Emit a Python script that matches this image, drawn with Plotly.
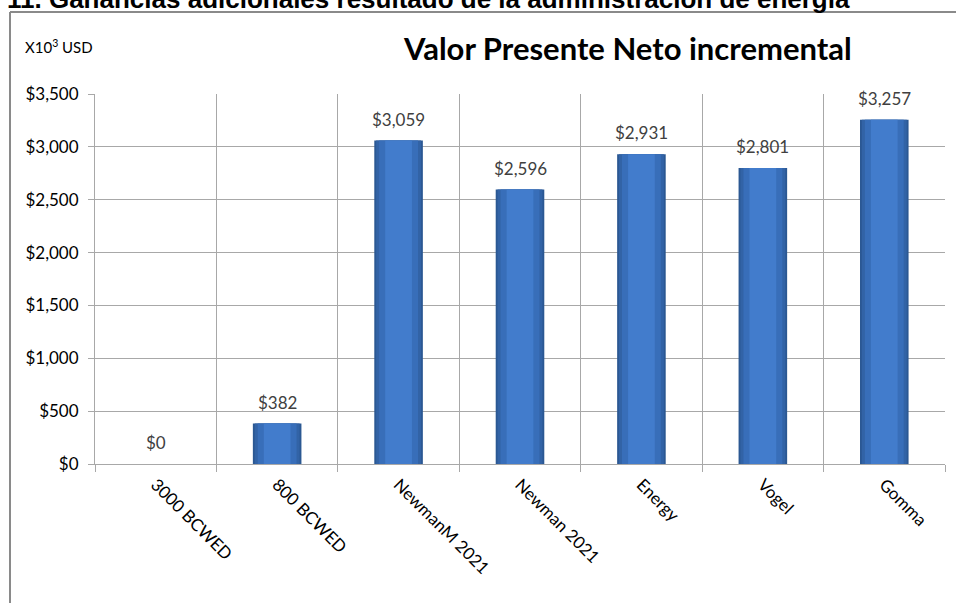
import plotly.graph_objects as go

# Incremental NPV per configuration (thousands of USD)
categories = ["3000 BCWED", "800 BCWED", "NewmanM 2021", "Newman 2021", "Energy", "Vogel", "Gomma"]
npv_values = [0, 382, 3059, 2596, 2931, 2801, 3257]
value_labels = ["$0", "$382", "$3,059", "$2,596", "$2,931", "$2,801", "$3,257"]
y_ticks = [0, 500, 1000, 1500, 2000, 2500, 3000, 3500]
y_tick_labels = ["$0", "$500", "$1,000", "$1,500", "$2,000", "$2,500", "$3,000", "$3,500"]

W, H = 956, 603
L, R, T, B = 95, 11, 94, 139
PW, PH = W - L - R, H - T - B

def px_x(p):
    return (p - L) / PW

def px_y(p):
    return (H - B - p) / PH

label_font = "Lato, 'Open Sans', sans-serif"

fig = go.Figure()

# Layered bars give the bevelled, shaded look of the columns
layers = [
    (0.40, "#2b5893"),
    (0.37, "#3263a6"),
    (0.32, "#386eb9"),
    (0.22, "#427ccc"),
]
for w, c in layers:
    fig.add_trace(go.Bar(
        x=categories, y=npv_values, width=w,
        marker=dict(color=c, line=dict(width=0)),
        hoverinfo="skip", showlegend=False,
    ))

for cat, val, lab in zip(categories, npv_values, value_labels):
    fig.add_annotation(
        x=cat, y=val, text=lab, showarrow=False,
        xref="x", yref="y", yanchor="bottom", yshift=9,
        font=dict(family=label_font, size=17, color="#404040"),
    )

# Chart title, units and the caption above the frame
fig.add_annotation(
    x=px_x(627), y=px_y(48), xref="paper", yref="paper",
    text="<b>Valor Presente Neto incremental</b>", showarrow=False,
    xanchor="center", yanchor="middle",
    font=dict(family=label_font, size=31, color="#000000"),
)
fig.add_annotation(
    x=px_x(23), y=px_y(47), xref="paper", yref="paper",
    text="X10<sup>3</sup> USD", showarrow=False,
    xanchor="left", yanchor="middle",
    font=dict(family=label_font, size=15, color="#000000"),
)
fig.add_annotation(
    x=px_x(5), y=px_y(16), xref="paper", yref="paper",
    text="<b>11. Ganancias adicionales resultado de la administración de energía</b>",
    showarrow=False, xanchor="left", yanchor="bottom",
    font=dict(family="'Liberation Sans', Arial, sans-serif", size=26, color="#000000"),
)

# Outer frame of the chart (left and top edges)
frame = dict(color="#8a8a8a", width=2)
fig.add_shape(type="line", xref="paper", yref="paper",
              x0=px_x(10), x1=px_x(10), y0=px_y(620), y1=px_y(12), line=frame)
fig.add_shape(type="line", xref="paper", yref="paper",
              x0=px_x(10), x1=px_x(970), y0=px_y(12), y1=px_y(12), line=frame)

fig.update_layout(
    width=W, height=H,
    margin=dict(l=L, r=R, t=T, b=B),
    paper_bgcolor="white", plot_bgcolor="white",
    barmode="overlay", bargap=0.6,
    font=dict(family=label_font, color="#000000"),
)
fig.update_xaxes(
    type="category", tickson="boundaries", showgrid=True, gridcolor="#a8a8a8", gridwidth=1,
    showline=True, linecolor="#a8a8a8", linewidth=1,
    ticks="outside", ticklen=7, tickcolor="#a8a8a8", ticklabelstandoff=3,
    tickangle=45, tickfont=dict(family=label_font, size=17, color="#000000"),
    range=[-0.5, len(categories) - 0.5],
)
fig.update_yaxes(
    range=[0, 3500], tickvals=y_ticks, ticktext=y_tick_labels,
    showgrid=True, gridcolor="#a8a8a8", gridwidth=1,
    showline=True, linecolor="#a8a8a8", linewidth=1,
    ticks="outside", ticklen=6, tickcolor="#a8a8a8", ticklabelstandoff=6,
    tickfont=dict(family=label_font, size=17, color="#000000"),
    zeroline=False,
)

fig.write_html("out.html")
